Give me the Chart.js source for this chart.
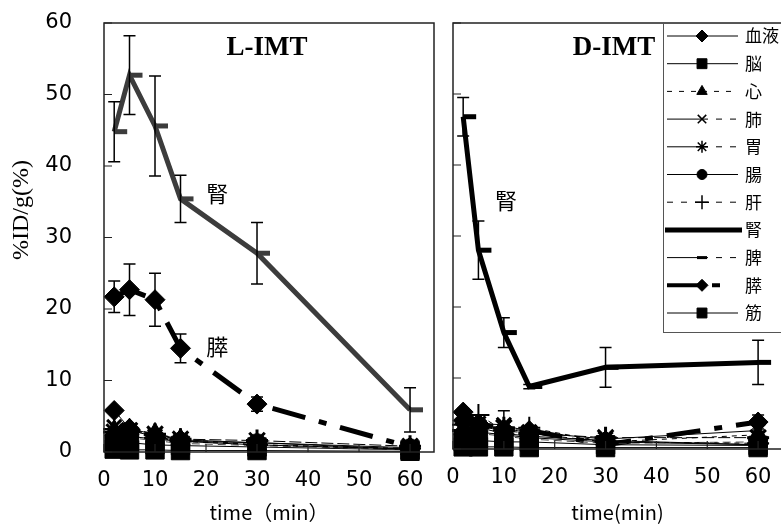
<!DOCTYPE html>
<html>
<head>
<meta charset="utf-8">
<script src="https://cdn.jsdelivr.net/npm/chart.js@4.4.1/dist/chart.umd.min.js"></script>
<style>
  html, body { margin: 0; padding: 0; background: #fff; overflow: hidden; }
  #wrap { position: relative; width: 781px; height: 528px; overflow: hidden; }
  #left { position: absolute; left: 0; top: 0; }
  #right { position: absolute; left: 440px; top: 0; }
</style>
</head>
<body>
<div id="wrap">
  <canvas id="left" width="440" height="528"></canvas>
  <canvas id="right" width="350" height="528"></canvas>
</div>
<script>
// sampling times (min) and tick labels
const times = [2, 5, 10, 15, 30, 60];
const xTicks = [0, 10, 20, 30, 40, 50, 60];
const yTicks = [0, 10, 20, 30, 40, 50, 60];
const organs = ['血液', '脳', '心', '肺', '胃', '腸', '肝', '腎', '脾', '膵', '筋'];

// L-IMT  (%ID/g)
const lBlood     = [5.8, 3.3, 2.4, 1.7, 1.3, 0.4];
const lBrain     = [0.4, 0.3, 0.3, 0.2, 0.2, 0.1];
const lHeart     = [3.0, 3.2, 2.6, 1.8, 1.0, 0.4];
const lLung      = [3.5, 3.0, 2.2, 1.5, 1.0, 0.4];
const lStomach   = [2.8, 3.0, 2.5, 1.8, 1.6, 0.8];
const lIntestine = [2.0, 2.2, 1.8, 1.5, 1.3, 0.6];
const lLiver     = [3.2, 2.8, 2.0, 1.5, 1.0, 0.5];
const lKidney    = [44.8, 52.7, 45.6, 35.4, 27.8, 5.9];
const lSpleen    = [2.2, 2.0, 1.6, 1.2, 0.9, 0.3];
const lPancreas  = [21.7, 22.7, 21.3, 14.5, 6.7, 0.7];
const lMuscle    = [1.2, 1.3, 1.0, 0.9, 0.7, 0.3];
const lKidneyErr   = [4.2, 5.5, 7.0, 3.3, 4.3, 3.1];
const lPancreasErr = [2.2, 3.6, 3.7, 2.0, 1.0, 0.4];

// D-IMT  (%ID/g)
const dBlood     = [4.0, 3.0, 2.2, 1.8, 1.2, 0.6];
const dBrain     = [0.3, 0.3, 0.3, 0.2, 0.2, 0.2];
const dHeart     = [2.8, 3.2, 2.6, 2.2, 1.0, 2.0];
const dLung      = [3.2, 3.6, 3.4, 2.4, 1.4, 2.6];
const dStomach   = [2.6, 3.0, 3.0, 2.2, 1.6, 1.6];
const dIntestine = [2.0, 2.4, 2.0, 1.6, 1.0, 0.6];
const dLiver     = [3.4, 4.8, 2.6, 3.0, 1.0, 0.8];
const dKidney    = [46.8, 28.0, 16.4, 8.8, 11.5, 12.2];
const dSpleen    = [2.0, 2.2, 1.8, 1.4, 0.8, 1.0];
const dPancreas  = [5.2, 3.6, 2.8, 2.6, 0.6, 3.8];
const dMuscle    = [1.0, 1.2, 1.0, 1.0, 0.6, 0.5];
const dKidneyErr   = [2.7, 4.1, 2.1, 0.3, 2.8, 3.1];
const dPancreasErr = [0.5, 0.5, 0.5, 0.3, 0.3, 1.0];
const dLungErr     = [0, 0, 2.0, 0, 0, 0];

// look of each organ (plot + legend sample)
const styles = [
  { pt: 'rectRot',  r: 10, bw: 1,   dash: [],             lw: 1, lr: 6, lL: [],    lR: [] },
  { pt: 'rect',     r: 13, bw: 1,   dash: [],             lw: 1, lr: 7, lL: [],    lR: [] },
  { pt: 'triangle', r: 11, bw: 1,   dash: [5, 5],         lw: 1, lr: 6, lL: [5, 7], lR: [5, 7] },
  { pt: 'crossRot', r: 10, bw: 3,   dash: [],             lw: 1, lr: 6, lL: [],    lR: [6, 8] },
  { pt: 'star',     r: 11, bw: 3,   dash: [12, 4],        lw: 1, lr: 6, lL: [],    lR: [6, 8] },
  { pt: 'circle',   r: 9,  bw: 1,   dash: [],             lw: 1, lr: 5, lL: [],    lR: [] },
  { pt: 'cross',    r: 11, bw: 2,   dash: [5, 5],         lw: 1, lr: 7, lL: [6, 8], lR: [6, 8] },
  { pt: 'dash',     r: 13, bw: 5,   dash: [],             lw: 5, lr: 0, lL: [],    lR: [] },
  { pt: 'line',     r: 8,  bw: 4,   dash: [8, 5],         lw: 1, lr: 5, lL: [],    lR: [6, 8] },
  { pt: 'rectRot',  r: 10, bw: 1,   dash: [34, 14, 8, 14], lw: 5, lr: 6, lL: [],    lR: [0, 10, 8, 30] },
  { pt: 'rect',     r: 13, bw: 1,   dash: [],             lw: 1, lr: 7, lL: [],    lR: [] }
];

function makeSets(series, errs, kidneyColor) {
  return series.map((vals, i) => {
    const s = styles[i];
    const col = i === 7 ? kidneyColor : (i === 8 ? '#444' : '#000');
    return {
      label: organs[i],
      data: times.map((t, k) => ({ x: t, y: vals[k] })),
      errors: errs[i] || null,
      borderColor: col,
      backgroundColor: col,
      borderWidth: s.lw,
      borderDash: s.dash,
      pointStyle: s.pt,
      pointRadius: s.r,
      pointBorderWidth: s.bw,
      pointBackgroundColor: i === 7 ? kidneyColor : '#000',
      pointBorderColor: i === 7 ? kidneyColor : '#000',
      tension: 0,
      clip: 12
    };
  });
}

const errorBars = {
  id: 'errorBars',
  afterDatasetsDraw(chart) {
    const { ctx, scales: { x, y } } = chart;
    chart.data.datasets.forEach(ds => {
      if (!ds.errors) return;
      ctx.save();
      ctx.strokeStyle = '#000';
      ctx.lineWidth = 1.5;
      ds.data.forEach((p, i) => {
        const e = ds.errors[i];
        if (!e) return;
        const px = x.getPixelForValue(p.x);
        const top = y.getPixelForValue(p.y + e);
        const bot = y.getPixelForValue(Math.max(0, p.y - e));
        ctx.beginPath();
        ctx.moveTo(px, top); ctx.lineTo(px, bot);
        ctx.moveTo(px - 6, top); ctx.lineTo(px + 6, top);
        ctx.moveTo(px - 6, bot); ctx.lineTo(px + 6, bot);
        ctx.stroke();
      });
      ctx.restore();
    });
  }
};

// box, inward ticks, panel title, organ labels
const frame = {
  id: 'frame',
  afterDraw(chart, args, opts) {
    const { ctx, chartArea: a, scales: { x, y } } = chart;
    ctx.save();
    ctx.strokeStyle = '#222';
    ctx.lineWidth = 1.5;
    ctx.strokeRect(a.left, a.top, a.right - a.left, a.bottom - a.top);
    ctx.lineWidth = 1.2;
    ctx.beginPath();
    yTicks.forEach(v => {
      const py = y.getPixelForValue(v);
      ctx.moveTo(a.left, py); ctx.lineTo(a.left + 8, py);
    });
    xTicks.forEach(v => {
      const px = x.getPixelForValue(v);
      ctx.moveTo(px, a.bottom); ctx.lineTo(px, a.bottom - 8);
    });
    ctx.stroke();

    ctx.fillStyle = '#000';
    ctx.textAlign = 'center';
    ctx.textBaseline = 'middle';
    ctx.font = 'bold 27px "Liberation Serif"';
    ctx.fillText(opts.title, opts.titleX, a.top + 25);

    ctx.font = '22px "Noto Sans CJK JP"';
    (opts.labels || []).forEach(l => {
      ctx.fillText(l.text, x.getPixelForValue(l.x), y.getPixelForValue(l.y));
    });

    if (opts.yTitle) {
      ctx.translate(22, 210);
      ctx.rotate(-Math.PI / 2);
      ctx.font = '24px "Liberation Serif"';
      ctx.fillText(opts.yTitle, 0, 0);
    }
    ctx.restore();
  }
};

const organLegend = {
  id: 'organLegend',
  afterDraw(chart, args, opts) {
    if (!opts.show) return;
    const ctx = chart.ctx;
    const bx = 223, by = 23, bh = 309;
    ctx.save();
    ctx.fillStyle = '#fff';
    ctx.fillRect(bx, by, 200, bh);
    ctx.strokeStyle = '#555';
    ctx.lineWidth = 1;
    ctx.strokeRect(bx + 0.5, by + 0.5, 200, bh);
    chart.data.datasets.forEach((ds, i) => {
      const s = styles[i];
      const cy = 36 + i * 27.7;
      const mx = 262;
      ctx.strokeStyle = '#000';
      ctx.fillStyle = '#000';
      ctx.lineWidth = s.lw === 5 ? (i === 7 ? 5 : 4) : 1;
      if (i === 7) {
        ctx.setLineDash([]);
        ctx.beginPath(); ctx.moveTo(bx + 2, cy); ctx.lineTo(302, cy); ctx.stroke();
      } else {
        ctx.setLineDash(s.lL);
        ctx.beginPath(); ctx.moveTo(227, cy); ctx.lineTo(mx, cy); ctx.stroke();
        ctx.setLineDash(s.lR);
        ctx.beginPath(); ctx.moveTo(mx, cy); ctx.lineTo(298, cy); ctx.stroke();
      }
      ctx.setLineDash([]);
      if (s.lr > 0) {
        ctx.lineWidth = (s.pt === 'line') ? 3 : (s.bw > 1 ? 1.5 : 1);
        Chart.helpers.drawPoint(ctx, { pointStyle: s.pt, radius: s.lr, borderWidth: ctx.lineWidth, rotation: 0 }, mx, cy);
      }
      ctx.fillStyle = '#000';
      ctx.font = '17px "Noto Sans CJK JP"';
      ctx.textAlign = 'left';
      ctx.textBaseline = 'middle';
      ctx.fillText(ds.label, 305, cy);
    });
    ctx.restore();
  }
};

// fixed scale box size, no auto padding from tick labels
function fixBox(s, w, h) {
  if (w !== null) s.width = w;
  if (h !== null) s.height = h;
  s.paddingTop = 0; s.paddingBottom = 0; s.paddingLeft = 0; s.paddingRight = 0;
}

function panel(id, sets, o) {
  return new Chart(document.getElementById(id), {
    type: 'line',
    data: { datasets: sets },
    plugins: [errorBars, frame, organLegend],
    options: {
      responsive: false,
      animation: false,
      layout: { autoPadding: false, padding: { top: 23, right: o.padRight, left: 0, bottom: 0 } },
      plugins: {
        legend: { display: false },
        tooltip: { enabled: false },
        frame: { title: o.title, titleX: o.titleX, labels: o.labels, yTitle: o.yTitle },
        organLegend: { show: o.legend }
      },
      scales: {
        x: {
          type: 'linear',
          min: 0, max: 64.7,
          afterBuildTicks: s => { s.ticks = xTicks.map(v => ({ value: v })); },
          afterFit: s => fixBox(s, null, o.xHeight),
          grid: { display: false, drawTicks: false },
          border: { display: false },
          ticks: { color: '#000', padding: 16, maxRotation: 0, font: { family: 'DejaVu Sans', size: 21 } },
          title: { display: true, text: o.xTitle, color: '#000', padding: { top: 0, bottom: 4 }, font: { family: 'Noto Sans CJK JP', size: 20 } }
        },
        y: {
          min: 0, max: 60,
          afterBuildTicks: s => { s.ticks = yTicks.map(v => ({ value: v })); },
          afterFit: s => fixBox(s, o.yWidth, null),
          grid: { display: false, drawTicks: false },
          border: { display: false },
          ticks: { display: o.yLabels, color: '#000', padding: 32, font: { family: 'DejaVu Sans', size: 21 } }
        }
      }
    }
  });
}

const lSeries = [lBlood, lBrain, lHeart, lLung, lStomach, lIntestine, lLiver, lKidney, lSpleen, lPancreas, lMuscle];
const dSeries = [dBlood, dBrain, dHeart, dLung, dStomach, dIntestine, dLiver, dKidney, dSpleen, dPancreas, dMuscle];
const lErrs = []; lErrs[7] = lKidneyErr; lErrs[9] = lPancreasErr;
const dErrs = []; dErrs[3] = dLungErr; dErrs[7] = dKidneyErr; dErrs[9] = dPancreasErr;

panel('left', makeSets(lSeries, lErrs, '#3c3c3c'), {
  title: 'L-IMT', titleX: 267, padRight: 6, xHeight: 76, yWidth: 104, yLabels: true, legend: false,
  xTitle: 'time（min）', yTitle: '%ID/g(%)',
  labels: [{ text: '腎', x: 22.2, y: 36.2 }, { text: '膵', x: 22.2, y: 14.7 }]
});
panel('right', makeSets(dSeries, dErrs, '#000'), {
  title: 'D-IMT', titleX: 174, padRight: 8, xHeight: 79, yWidth: 13, yLabels: false, legend: true,
  xTitle: 'time(min)', yTitle: null,
  labels: [{ text: '腎', x: 10.4, y: 35 }]
});
</script>
</body>
</html>
